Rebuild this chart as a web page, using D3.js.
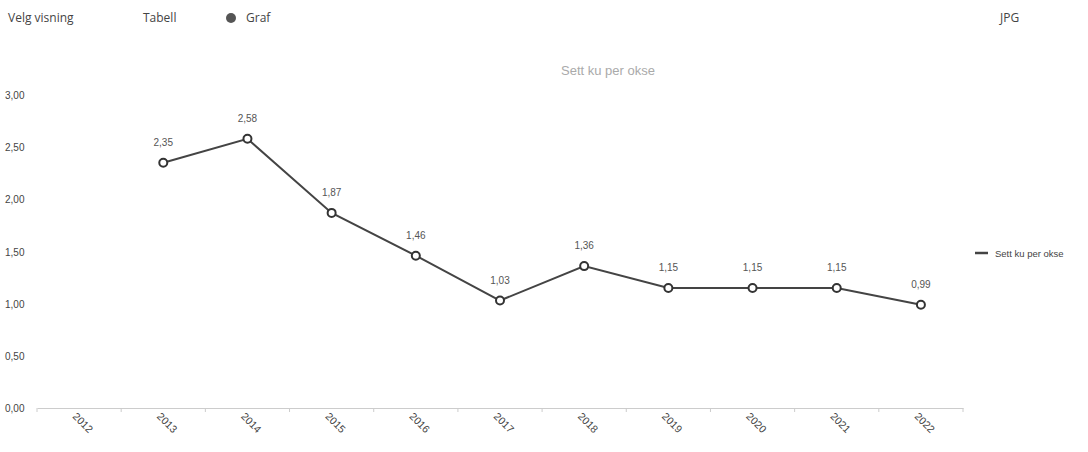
<!DOCTYPE html>
<html>
<head>
<meta charset="utf-8">
<script src="https://cdn.jsdelivr.net/npm/d3@7"></script>
<style>
  body { margin: 0; background: #fff; }
  svg { display: block; }
</style>
</head>
<body>
<svg width="1088" height="452"></svg>
<script>
var years = ["2012", "2013", "2014", "2015", "2016", "2017", "2018", "2019", "2020", "2021", "2022"];
var dataYears = ["2013", "2014", "2015", "2016", "2017", "2018", "2019", "2020", "2021", "2022"];
var values = [2.35, 2.58, 1.87, 1.46, 1.03, 1.36, 1.15, 1.15, 1.15, 0.99];
var yTicks = [0, 0.5, 1, 1.5, 2, 2.5, 3];
var seriesName = "Sett ku per okse";

var data = dataYears.map(function(d, i) { return {year: d, value: values[i]}; });

var svg = d3.select("svg");
var comma = function(v) { return d3.format(".2f")(v).replace(".", ","); };

// header
var head = svg.append("g").style("font-family", "'Open Sans', sans-serif")
    .style("font-size", "12px").attr("fill", "#444");
head.append("text").attr("x", 8).attr("y", 22).text("Velg visning");
head.append("text").attr("x", 143).attr("y", 22).text("Tabell");
head.append("circle").attr("cx", 231).attr("cy", 18).attr("r", 5).attr("fill", "#555");
head.append("text").attr("x", 246).attr("y", 22).text("Graf");
head.append("text").attr("x", 1000).attr("y", 22).text("JPG");

// title
svg.append("text")
    .attr("x", 608).attr("y", 75)
    .attr("text-anchor", "middle")
    .style("font-family", "Arial, 'Liberation Sans', sans-serif")
    .style("font-size", "13px")
    .attr("fill", "#aaa")
    .text(seriesName);

var x = d3.scaleBand().domain(years).range([37, 963]);
var y = d3.scaleLinear().domain([0, 3]).range([408, 95]);

// y labels (no axis line)
svg.append("g").selectAll("text")
  .data(yTicks)
  .enter().append("text")
    .attr("x", 5)
    .attr("y", function(d) { return y(d) + 4; })
    .style("font-family", "Arial, 'Liberation Sans', sans-serif")
    .style("font-size", "10px")
    .attr("fill", "#444")
    .text(function(d) { return comma(d); });

// x axis
var xAxis = svg.append("g")
    .attr("transform", "translate(0,408)")
    .call(d3.axisBottom(x).tickSize(0).tickFormat(""));
xAxis.select(".domain").attr("stroke", "#ccc");
xAxis.selectAll(".tick").remove();

svg.append("g").selectAll("line")
  .data(years.concat(["end"]))
  .enter().append("line")
    .attr("x1", function(d, i) { return x.range()[0] + i * x.bandwidth(); })
    .attr("x2", function(d, i) { return x.range()[0] + i * x.bandwidth(); })
    .attr("y1", 408).attr("y2", 412)
    .attr("stroke", "#ccc");

svg.append("g").selectAll("text")
  .data(years)
  .enter().append("text")
    .attr("transform", function(d) {
      return "translate(" + (x(d) + x.bandwidth() / 2 - 7) + ",417) rotate(45)";
    })
    .style("font-family", "Arial, 'Liberation Sans', sans-serif")
    .style("font-size", "10.5px")
    .attr("fill", "#444")
    .text(function(d) { return d; });

var line = d3.line()
    .x(function(d) { return x(d.year) + x.bandwidth() / 2; })
    .y(function(d) { return y(d.value); });

svg.append("path")
    .datum(data)
    .attr("fill", "none")
    .attr("stroke", "#444")
    .attr("stroke-width", 2)
    .attr("d", line);

svg.selectAll(".dot")
  .data(data)
  .enter().append("circle")
    .attr("class", "dot")
    .attr("cx", line.x())
    .attr("cy", line.y())
    .attr("r", 4)
    .attr("fill", "#fff")
    .attr("stroke", "#333")
    .attr("stroke-width", 2);

svg.selectAll(".lbl")
  .data(data)
  .enter().append("text")
    .attr("class", "lbl")
    .attr("x", line.x())
    .attr("y", function(d) { return y(d.value) - 17; })
    .attr("text-anchor", "middle")
    .style("font-family", "Arial, 'Liberation Sans', sans-serif")
    .style("font-size", "10px")
    .attr("fill", "#555")
    .text(function(d) { return comma(d.value); });

// legend
svg.append("line")
    .attr("x1", 975).attr("x2", 988).attr("y1", 253).attr("y2", 253)
    .attr("stroke", "#444").attr("stroke-width", 2.5);
svg.append("text")
    .attr("x", 995).attr("y", 257)
    .style("font-family", "Arial, 'Liberation Sans', sans-serif")
    .style("font-size", "9.5px")
    .attr("fill", "#444")
    .text(seriesName);
</script>
</body>
</html>
